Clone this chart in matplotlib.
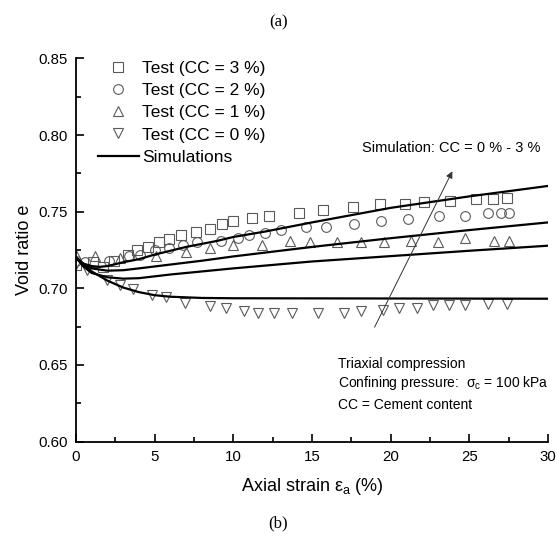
import numpy as np
import matplotlib
matplotlib.use('Agg')
import matplotlib.pyplot as plt
from matplotlib.ticker import MultipleLocator

plt.rcParams['font.family'] = ['Liberation Sans', 'DejaVu Sans']

# ensaios
x_cc3 = [0, 1.1, 1.7, 2.4, 3.3, 3.9, 4.6, 5.3, 5.9, 6.7, 7.6, 8.5, 9.3, 10.0, 11.2, 12.3,
         14.2, 15.7, 17.6, 19.3, 20.9, 22.1, 23.8, 25.4, 26.5, 27.4]
e_cc3 = [0.715, 0.717, 0.714, 0.718, 0.722, 0.725, 0.727, 0.730, 0.732, 0.735, 0.737, 0.739,
         0.742, 0.744, 0.746, 0.747, 0.749, 0.751, 0.753, 0.755, 0.755, 0.756, 0.757, 0.758,
         0.758, 0.759]

x_cc2 = [0, 0.6, 2.1, 3.4, 4.1, 5.0, 5.9, 6.8, 7.7, 9.2, 10.3, 11.0, 12.0, 13.0, 14.6, 15.9,
         17.7, 19.4, 21.1, 23.1, 24.7, 26.2, 27.0, 27.5]
e_cc2 = [0.718, 0.717, 0.718, 0.721, 0.722, 0.725, 0.726, 0.728, 0.730, 0.731, 0.733, 0.735,
         0.736, 0.738, 0.740, 0.740, 0.742, 0.744, 0.745, 0.747, 0.747, 0.749, 0.749, 0.749]

x_cc1 = [0, 1.2, 2.8, 5.1, 7.0, 8.5, 10.0, 11.8, 13.6, 14.9, 16.6, 18.1, 19.6, 21.3, 23.0,
         24.7, 26.6, 27.5]
e_cc1 = [0.722, 0.721, 0.720, 0.721, 0.724, 0.726, 0.728, 0.728, 0.731, 0.730, 0.730, 0.730,
         0.730, 0.731, 0.730, 0.733, 0.731, 0.731]

x_cc0 = [0, 0.7, 1.95, 2.8, 3.6, 4.85, 5.7, 6.9, 8.5, 9.55, 10.7, 11.55, 12.6, 13.7, 15.4,
         17.05, 18.1, 19.5, 20.55, 21.7, 22.7, 23.7, 24.7, 26.2, 27.4]
e_cc0 = [0.716, 0.712, 0.7055, 0.702, 0.6995, 0.6956, 0.6941, 0.6906, 0.6884, 0.687, 0.685,
         0.684, 0.684, 0.684, 0.684, 0.684, 0.685, 0.686, 0.687, 0.687, 0.689, 0.689, 0.689,
         0.690, 0.690]

# simulacoes
xs3 = [0, 0.5, 1, 1.5, 2, 3, 4, 5, 7, 9, 10, 12, 15, 20, 25, 30]
es3 = [0.720, 0.716, 0.7145, 0.714, 0.7145, 0.717, 0.719, 0.722, 0.727, 0.731, 0.7335,
       0.737, 0.743, 0.7525, 0.760, 0.7668]
xs2 = [0, 0.5, 1, 2, 3, 4, 6, 8, 10, 15, 20, 25, 30]
es2 = [0.720, 0.7155, 0.713, 0.7115, 0.7118, 0.713, 0.7155, 0.718, 0.7208, 0.727, 0.7327,
       0.738, 0.743]
xs1 = [0, 0.5, 1, 2, 3, 4, 6, 8, 10, 15, 20, 25, 30]
es1 = [0.720, 0.714, 0.710, 0.7072, 0.7063, 0.7066, 0.709, 0.711, 0.713, 0.7175, 0.721,
       0.7245, 0.7278]
xs0 = [0, 0.5, 1, 2, 3, 4, 5, 6, 8, 10, 30]
es0 = [0.720, 0.715, 0.711, 0.705, 0.7005, 0.6975, 0.6955, 0.6945, 0.6937, 0.6935, 0.6932]

fig = plt.figure(figsize=(5.57, 5.44), dpi=100)
ax = fig.add_axes([0.1364, 0.1884, 0.8474, 0.7041])

mc = '#5a5a5a'
ms = 7
ax.plot(x_cc3, e_cc3, 's', mfc='none', mec=mc, ms=ms - 0.5, mew=0.8, label='Test (CC = 3 %)')
ax.plot(x_cc2, e_cc2, 'o', mfc='none', mec=mc, ms=ms, mew=0.8, label='Test (CC = 2 %)')
ax.plot(x_cc1, e_cc1, '^', mfc='none', mec=mc, ms=ms + 0.5, mew=0.8, label='Test (CC = 1 %)')
ax.plot(x_cc0, e_cc0, 'v', mfc='none', mec=mc, ms=ms + 0.5, mew=0.8, label='Test (CC = 0 %)')
ax.plot(xs3, es3, 'k-', lw=1.6, label='Simulations')
ax.plot(xs2, es2, 'k-', lw=1.6)
ax.plot(xs1, es1, 'k-', lw=1.6)
ax.plot(xs0, es0, 'k-', lw=1.6)

ax.annotate('', xy=(24.0, 0.778), xytext=(18.9, 0.673),
            arrowprops=dict(arrowstyle='-|>', color='#333333', lw=0.7, mutation_scale=10))
ax.text(18.2, 0.7916, 'Simulation: CC = 0 % - 3 %', fontsize=10.5, va='center')
ax.text(16.65, 0.6504, 'Triaxial compression', fontsize=10, va='center')
ax.text(16.65, 0.638, r'Confining pressure:  $\mathregular{\sigma_c}$ = 100 kPa', fontsize=10, va='center')
ax.text(16.65, 0.6238, 'CC = Cement content', fontsize=10, va='center')

ax.set_xlim(0, 30)
ax.set_ylim(0.60, 0.85)
ax.xaxis.set_major_locator(MultipleLocator(5))
ax.xaxis.set_minor_locator(MultipleLocator(2.5))
ax.yaxis.set_major_locator(MultipleLocator(0.05))
ax.yaxis.set_minor_locator(MultipleLocator(0.025))
ax.yaxis.set_major_formatter(plt.FormatStrFormatter('%.2f'))
ax.tick_params(which='both', direction='in', width=1.2, labelsize=10.8)
ax.tick_params(which='major', length=6, pad=6)
ax.tick_params(which='minor', length=3.5)
for s in ['top', 'right']:
    ax.spines[s].set_visible(False)
for s in ['left', 'bottom']:
    ax.spines[s].set_linewidth(1.3)
ax.set_xlabel(r'Axial strain $\mathregular{\varepsilon_a}$ (%)', fontsize=13, labelpad=9)
ax.set_ylabel('Void ratio e', fontsize=13, labelpad=4)

ax.legend(loc='upper left', bbox_to_anchor=(0.02, 1.025), frameon=False, fontsize=12.5,
          handlelength=2.4, handletextpad=0.15, labelspacing=0.4, borderpad=0.2)

fig.text(0.5, 0.958, '(a)', ha='center', va='center', fontsize=12, family='Liberation Serif')
fig.text(0.5, 0.037, '(b)', ha='center', va='center', fontsize=12, family='Liberation Serif')

fig.savefig('out.png', dpi=100)
